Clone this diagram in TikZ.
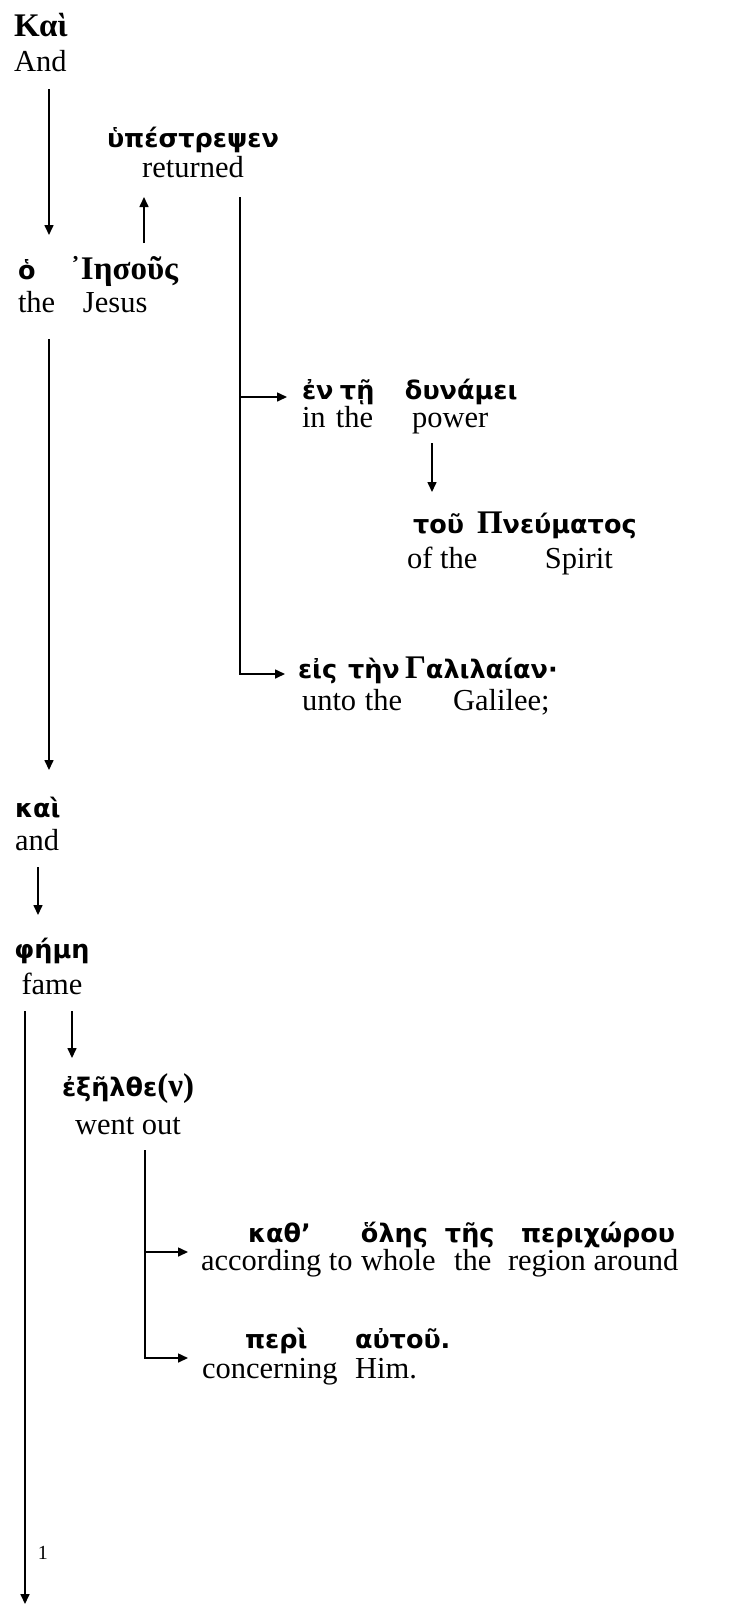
\documentclass[tikz,border=0pt]{standalone}
\usepackage{fontspec}
\setmainfont{Liberation Serif}
\newfontfamily\grsans{DejaVu Sans}
\newfontfamily\grserif{Liberation Serif}
\usetikzlibrary{arrows.meta}
\newcommand{\gs}[1]{{\grsans\bfseries\fontsize{25.5}{25.5}\selectfont #1}}
\newcommand{\gb}[1]{{\grserif\bfseries\fontsize{33}{33}\selectfont #1}}
\newcommand{\en}[1]{{\fontsize{30.5}{30.5}\selectfont #1}}
\newcommand{\slot}[2]{\makebox[#1][l]{#2}}
\newcommand{\pair}[4][l]{\begin{tabular}[t]{@{}#1@{}}\smash{#3}\\\smash{#4}\rule{0pt}{#2}\end{tabular}}
\renewcommand{\arraystretch}{0}
\tikzset{
    word/.style={
        inner sep=0pt,
        outer sep=0pt,
        anchor=north west,
    },
    note/.style={
        inner sep=0pt,
        font=\fontsize{20}{20}\selectfont,
    },
    elbow/.style={
        to path={|- (\tikztotarget)},
    },
    every edge/.style={
        draw,
        -{Triangle[length=10pt,width=9pt]},
        line width=1.6pt,
    },
}

\begin{document}
\begin{tikzpicture}[x=1pt, y=-1pt]
    \useasboundingbox (0,0) rectangle (729,1606);

    \node [word] (kai) at (14,36) {\pair{35pt}{\gb{Καὶ}}{\en{And}}};
    \node [word, anchor=north] (hup) at (193,147) {\pair[c]{30pt}{\gs{ὑπέστρεψεν}}{\en{returned}}};
    \node [word] (iesous) at (18,279) {\pair{33pt}{\slot{52pt}{\gs{ὁ}}\gb{᾿Ιησοῦς}}{\en{\slot{65pt}{the}Jesus}}};
    \node [word] (dunamei) at (302,399) {\pair{28pt}{\gs{\slot{38pt}{ἐν}\slot{65pt}{τῇ}δυνάμει}}{\en{\slot{34pt}{in}\slot{76pt}{the}power}}};
    \node [word] (pneumatos) at (407,533) {\pair{35pt}{\hspace{6pt}\slot{64pt}{\gs{τοῦ}}\gb{Π}\gs{νεύματος}}{\en{\slot{138pt}{of the}Spirit}}};
    \node [word] (galilaian) at (298,678) {\pair{32pt}{\gs{\slot{50pt}{εἰς}\slot{57pt}{τὴν}}\gb{Γ}\gs{αλιλαίαν·}}{\en{\hspace{4pt}\slot{63pt}{unto}\slot{88pt}{the}Galilee;}}};

    \node [word] (kai2) at (15,817) {\pair{33pt}{\gs{καὶ}}{\en{and}}};
    \node [word, anchor=north] (feme) at (52,958) {\pair[c]{36pt}{\gs{φήμη}}{\en{fame}}};
    \node [word, anchor=north] (exelthe) at (128,1096) {\pair[c]{38pt}{\gs{ἐξῆλθε}\gb{(ν)}}{\en{went out}}};
    \node [word] (kath) at (201,1242) {\pair{28pt}{\gs{\hspace{47pt}\slot{113pt}{καθ’}\slot{84pt}{ὅλης}\slot{76pt}{τῆς}περιχώρου}}{\en{\slot{160pt}{according to}\slot{93pt}{whole}\slot{54pt}{the}region around}}};
    \node [word] (peri) at (202,1348) {\pair{30pt}{\gs{\hspace{43pt}\slot{110pt}{περὶ}αὐτοῦ.}}{\en{\slot{153pt}{concerning}Him.}}};

    % where the lines leave the words
    \coordinate (kai-out) at ([xshift=35pt,yshift=-18pt]kai.south west);
    \coordinate (ies-up) at ([xshift=126pt,yshift=36pt]iesous.north west);
    \coordinate (ies-down) at ([xshift=31pt,yshift=-27pt]iesous.south west);
    \coordinate (hup-out) at ([xshift=47pt,yshift=-20pt]hup.south);
    \coordinate (dun-in) at ([yshift=2pt]dunamei.north west);
    \coordinate (dun-out) at ([xshift=130pt,yshift=-16pt]dunamei.south west);
    \coordinate (kai2-out) at ([xshift=23pt,yshift=-17pt]kai2.south west);
    \coordinate (feme-out) at ([xshift=-27pt,yshift=-17pt]feme.south);
    \coordinate (feme-end) at (25,1604);
    \coordinate (feme-ex) at ([xshift=20pt,yshift=-17pt]feme.south);
    \coordinate (ex-out) at ([xshift=17pt,yshift=-16pt]exelthe.south);
    \coordinate (kath-in) at ([yshift=-10pt]kath.north west);
    \coordinate (peri-in) at ([yshift=-10pt]peri.north west);

    \draw (kai-out) edge[shorten >=44pt] (kai-out |- iesous.north);
    \draw (ies-up) edge[shorten >=20pt] (ies-up |- hup.south);
    \draw (hup-out |- dun-in) edge[shorten >=15pt] (dun-in);
    \draw (hup-out) edge[elbow, shorten >=13pt] ([yshift=4pt]galilaian.north west);
    \draw (dun-out) edge[shorten >=41pt] (dun-out |- pneumatos.north);
    \draw (ies-down) edge[shorten >=47pt] (ies-down |- kai2.north);
    \draw (kai2-out) edge[shorten >=43pt] (kai2-out |- feme.north);
    \draw (feme-out) edge node[note, pos=0.914, right=12pt] (one) {1} (feme-end);
    \draw (feme-ex) edge[shorten >=38pt] (feme-ex |- exelthe.north);
    \draw (ex-out |- kath-in) edge[shorten >=13pt] (kath-in);
    \draw (ex-out) edge[elbow, shorten >=14pt] (peri-in);
\end{tikzpicture}
\end{document}
